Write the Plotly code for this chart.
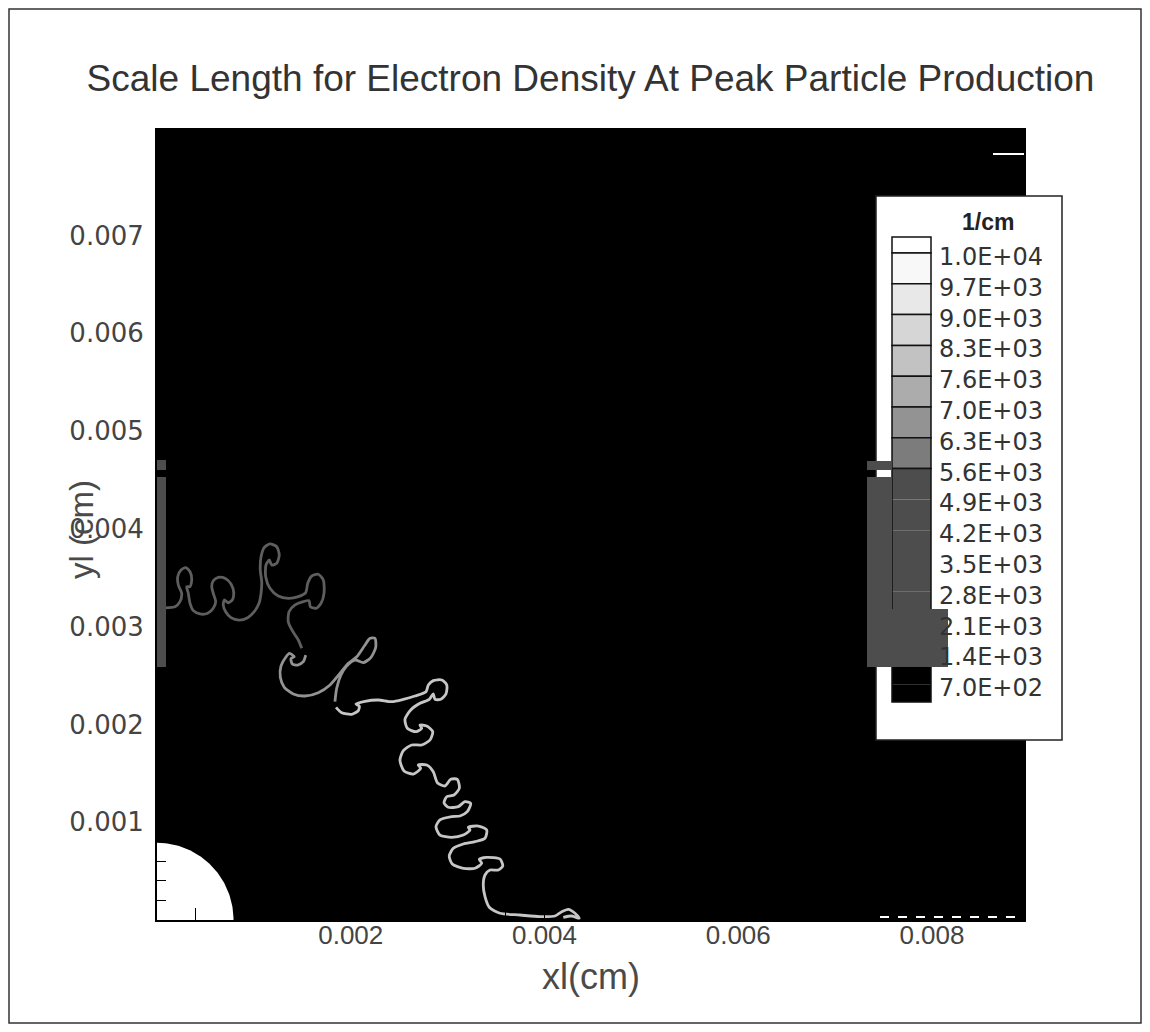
import numpy as np
import plotly.graph_objects as go

title = "Scale Length for Electron Density At Peak Particle Production"
x_title = "xl(cm)"
y_title = "yl (cm)"

x_range = [0, 0.00895]
y_range = [0, 0.00808]
x_tick_vals = [0.002, 0.004, 0.006, 0.008]
y_tick_vals = [0.001, 0.002, 0.003, 0.004, 0.005, 0.006, 0.007]

# white core at the origin, radius in cm
core_radius = 0.00079

# contour, in micrometres (1e-4 cm)
front_x_um = [
    0.10, 1.86, 2.37, 2.55, 2.20, 2.14, 2.48, 2.96, 3.41, 3.58,
    3.41, 3.07, 3.23, 3.41, 3.75, 4.44, 5.23, 5.81, 6.06, 5.81,
    5.65, 5.81, 6.33, 7.02, 7.64, 7.92, 7.77, 7.36, 6.95, 6.84,
    7.09, 7.64, 8.46, 9.36, 10.04, 10.53, 10.74, 10.81, 10.66, 10.74,
    11.08, 11.66, 12.36, 12.62, 12.36, 11.84, 11.59, 11.25, 11.22, 11.66,
    12.52, 13.55, 14.59, 15.35, 15.56, 15.97, 16.65, 17.17, 17.24, 16.93,
    16.41, 15.83, 15.69, 15.10, 14.25, 13.63, 13.55, 13.97, 14.59, 14.94,
    15.35, 15.10, 14.52, 13.97, 13.83, 14.17, 13.68, 13.29, 12.80, 12.73, 13.14,
    14.07, 15.28, 16.65, 17.86, 18.89, 19.75, 20.62, 21.40, 21.99, 22.50,
    22.58, 22.09, 21.30, 20.44, 19.58, 18.99, 18.55, 18.37, 18.48, 19.07,
    20.10, 20.78, 20.88, 20.54, 21.47, 22.84, 24.23, 25.43, 26.63, 27.77,
    28.01, 28.52, 29.39, 29.91, 29.83, 29.29, 28.70, 28.52, 28.11, 27.15,
    26.19, 25.60, 25.84, 26.74, 27.32, 27.15, 27.84, 28.46, 28.18, 27.32,
    26.29, 25.43, 25.08, 25.50, 26.46, 27.22, 26.97, 27.84, 28.52, 28.94,
    29.73, 30.32, 31.00, 31.21, 30.66, 29.91, 29.63, 30.07, 31.10, 31.79,
    32.38, 32.03, 31.28, 30.42, 29.21, 28.80, 29.21, 30.42, 31.62, 32.31,
    32.14, 33.17, 34.03, 33.86, 32.83, 31.62, 30.59, 30.17, 30.48, 31.62,
    32.83, 33.52, 33.27, 34.03, 35.41, 35.69, 35.23, 34.38, 33.86, 33.68,
    33.86, 34.30, 35.41, 37.47, 39.54, 41.09, 41.78, 42.46, 43.15, 43.59,
    42.81, 41.94,
]
front_y_um = [
    31.91, 32.04, 32.56, 33.41, 34.26, 35.11, 35.80, 36.03, 35.62, 34.78,
    34.09, 34.09, 33.41, 32.39, 31.64, 31.30, 31.37, 31.88, 32.56, 33.41,
    34.09, 34.70, 35.05, 34.95, 34.37, 33.48, 32.73, 32.45, 32.73, 32.22,
    31.53, 30.92, 30.68, 30.92, 31.53, 32.39, 33.41, 34.60, 35.80, 37.16,
    38.12, 38.46, 38.18, 37.33, 36.48, 36.31, 36.82, 36.31, 35.11, 33.93,
    33.14, 32.90, 33.07, 33.48, 34.44, 35.18, 35.36, 34.78, 33.41, 32.39,
    31.88, 32.04, 32.66, 32.56, 32.22, 31.53, 30.51, 29.59, 28.64, 27.79,
    27.10, 26.42, 26.08, 26.18, 26.73, 26.93, 27.26, 26.87, 25.98, 24.82, 23.80,
    23.12, 22.91, 23.25, 24.04, 25.23, 26.25, 26.93, 28.02, 28.81, 28.81,
    27.89, 26.87, 26.32, 26.59, 25.98, 25.06, 23.70, 22.33, 21.75, 21.20,
    21.04, 21.41, 21.89, 22.09, 22.37, 22.50, 22.33, 22.57, 22.91, 23.35,
    24.04, 24.48, 24.55, 24.04, 23.12, 22.57, 22.57, 23.12, 22.57, 22.16,
    21.48, 20.53, 19.61, 19.26, 19.61, 19.94, 19.84, 19.26, 18.41, 17.90,
    17.90, 17.32, 16.36, 15.24, 14.93, 15.52, 15.85, 15.85, 15.17, 14.04,
    13.71, 14.39, 14.39, 13.47, 12.79, 12.61, 12.00, 11.53, 11.59, 12.10,
    11.94, 11.08, 10.64, 10.57, 10.23, 9.54, 8.69, 8.46, 8.69, 9.21,
    9.48, 9.61, 9.21, 8.36, 8.01, 7.77, 7.33, 6.55, 5.73, 5.29,
    5.29, 5.80, 6.21, 6.41, 6.24, 5.52, 5.11, 5.11, 4.60, 3.58,
    2.38, 1.30, 0.69, 0.51, 0.34, 0.41, 0.85, 1.09, 0.69, 0.17,
    0.41, 0.28,
]
# the contour gets lighter further down the slope
shade_breaks = [0, 70, 99, len(front_x_um)]
shade_colors = ["#5e5e5e", "#939393", "#c6c6c6"]

legend_title = "1/cm"
legend_levels = [
    "1.0E+04", "9.7E+03", "9.0E+03", "8.3E+03", "7.6E+03", "7.0E+03", "6.3E+03", "5.6E+03",
    "4.9E+03", "4.2E+03", "3.5E+03", "2.8E+03", "2.1E+03", "1.4E+03", "7.0E+02",
]
legend_fill = [
    "#ffffff", "#f8f8f8", "#e8e8e8", "#d6d6d6", "#c2c2c2", "#acacac", "#939393", "#7c7c7c",
    "#4d4d4d", "#4d4d4d", "#4d4d4d", "#4d4d4d", "#4d4d4d", "#000000", "#000000", "#000000",
]

# page pixels; the html body adds an 8px margin all round
OFF = 8
W, H = 1150, 1032
L, R, T, B = 157, 1024, 130, 920
FIG_W, FIG_H = W - 2 * OFF, H - 2 * OFF


def px(x):
    return (x - L) / (R - L)


def py(y):
    return (B - y) / (B - T)


fig = go.Figure()

theta = np.linspace(0, np.pi / 2, 60)
fig.add_trace(go.Scatter(
    x=np.concatenate([[0], core_radius * np.cos(theta), [0]]),
    y=np.concatenate([[0], core_radius * np.sin(theta), [0]]),
    mode="lines", fill="toself", fillcolor="white", line=dict(color="white", width=0),
    hoverinfo="skip",
))

fx = np.array(front_x_um) * 1e-4
fy = np.array(front_y_um) * 1e-4
for i, col in enumerate(shade_colors):
    a, b = shade_breaks[i], shade_breaks[i + 1]
    fig.add_trace(go.Scatter(
        x=fx[a:b], y=fy[a:b], mode="lines",
        line=dict(color=col, width=2.8, shape="spline", smoothing=0.7),
        hoverinfo="skip",
    ))

shapes = []


def rect(x0, y0, x1, y1, fill, line_color=None, lw=0):
    shapes.append(dict(
        type="rect", xref="paper", yref="paper", x0=px(x0), x1=px(x1), y0=py(y1), y1=py(y0),
        fillcolor=fill, line=dict(color=line_color or fill, width=lw), layer="above",
    ))


# scan artefacts along the left edge
rect(157, 460, 166, 470, "#4d4d4d")
rect(157, 477, 166, 667, "#4d4d4d")

# white ticks / notch artefacts
shapes.append(dict(type="line", xref="paper", yref="paper", x0=px(993), x1=px(1024), y0=py(154), y1=py(154),
                   line=dict(color="white", width=2), layer="above"))
shapes.append(dict(type="line", xref="paper", yref="paper", x0=px(880), x1=px(1024), y0=py(917), y1=py(917),
                   line=dict(color="white", width=2, dash="dash"), layer="above"))

# legend box
rect(876, 196, 1062, 740, "white", "#222222", 1.5)
sw_top, first_edge, row_h = 237, 253, 30.8
edges = [sw_top] + [first_edge + row_h * k for k in range(len(legend_levels))] + [702]
for k, col in enumerate(legend_fill):
    if k < 8:
        rect(892, edges[k], 931, edges[k + 1], col, "#111111", 1.5)
    else:
        rect(892, edges[k], 931, edges[k + 1], col)
rect(892, edges[8], 931, 702, "rgba(0,0,0,0)", "#111111", 1.5)

# grey artefacts over the legend
rect(867, 461, 892, 470, "#4d4d4d")
rect(867, 477, 892, 609, "#4d4d4d")
rect(867, 609, 948, 667, "#4d4d4d")

# page frame
shapes.append(dict(type="rect", xref="paper", yref="paper", x0=px(9), x1=px(1141), y0=py(1023), y1=py(9),
                   line=dict(color="#333333", width=1.5), fillcolor="rgba(0,0,0,0)", layer="above"))

annotations = [
    dict(text=legend_title, xref="paper", yref="paper", x=px(988), y=py(222), showarrow=False,
         xanchor="center", yanchor="middle",
         font=dict(family="Liberation Sans", size=23, color="#222222", weight="bold")),
    dict(text=x_title, xref="paper", yref="paper", x=0.5, y=py(976), showarrow=False,
         xanchor="center", yanchor="middle",
         font=dict(family="Liberation Sans", size=36, color="#4a4a4a")),
    dict(text=y_title, xref="paper", yref="paper", x=px(81), y=py(530), showarrow=False, textangle=-90,
         xanchor="center", yanchor="middle",
         font=dict(family="Liberation Sans", size=33, color="#4a4a4a")),
]
for i, lab in enumerate(legend_levels):
    annotations.append(dict(
        text=lab, xref="paper", yref="paper", x=px(937), y=py(257 + row_h * i),
        xanchor="left", yanchor="middle",
        showarrow=False, font=dict(family="DejaVu Sans", size=24, color="#333333"),
    ))

fig.update_layout(
    width=FIG_W, height=FIG_H,
    margin=dict(l=L - OFF, r=(W - OFF) - R, t=T - OFF, b=(H - OFF) - B),
    paper_bgcolor="white", plot_bgcolor="black",
    showlegend=False,
    title=dict(text=title, x=0.5, xref="paper", xanchor="center", y=1 - (78 - OFF) / FIG_H,
               yref="container", yanchor="middle",
               font=dict(family="Liberation Sans", size=37, color="#333333")),
    shapes=shapes, annotations=annotations,
)
fig.update_xaxes(
    range=x_range, tickvals=x_tick_vals, tickformat=".3f", showgrid=False, zeroline=False,
    showline=True, linecolor="black", linewidth=2, mirror=True,
    ticks="inside", ticklen=14, tickcolor="black", ticklabelstandoff=-9,
    minor=dict(tickvals=list(np.arange(0, 0.009, 0.0004)), ticks="inside", ticklen=12, tickcolor="black"),
    tickfont=dict(family="Liberation Sans", size=26, color="#444444"),
)
fig.update_yaxes(
    range=y_range, tickvals=y_tick_vals, tickformat=".3f", showgrid=False, zeroline=False,
    showline=True, linecolor="black", linewidth=2, mirror=True,
    ticks="inside", ticklen=14, tickcolor="black", ticklabelstandoff=6,
    minor=dict(tickvals=list(np.arange(0, 0.0081, 0.0002)), ticks="inside", ticklen=9, tickcolor="black"),
    tickfont=dict(family="DejaVu Sans", size=26, color="#444444"),
)

fig.write_html("out.html")
